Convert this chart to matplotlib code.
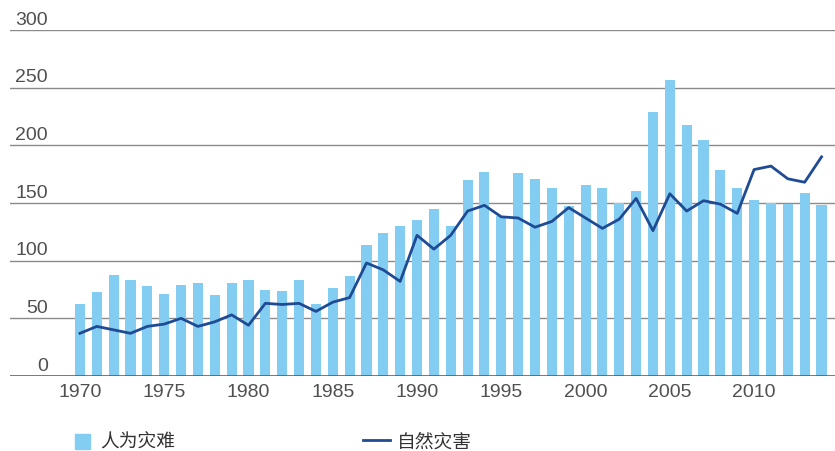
import matplotlib.pyplot as plt
from matplotlib.patches import Rectangle
from matplotlib.lines import Line2D
from matplotlib.transforms import blended_transform_factory

# Data: years, man-made disasters (bars), natural disasters (line)
years = list(range(1970, 2015))
man_made = [62, 73, 88, 83, 78, 71, 79, 81, 70, 81,
            83, 75, 74, 83, 62, 76, 87, 114, 124, 130,
            135, 145, 130, 170, 177, 139, 176, 171, 163, 147,
            166, 163, 150, 160, 229, 257, 218, 205, 179, 163,
            153, 150, 149, 159, 148]
natural = [37, 43, 40, 37, 43, 45, 50, 43, 47, 53,
           44, 63, 62, 63, 56, 64, 68, 98, 92, 82,
           122, 110, 122, 143, 148, 138, 137, 129, 134, 146,
           137, 128, 136, 154, 126, 158, 143, 152, 149, 141,
           179, 182, 171, 168, 190]
y_ticks = [0, 50, 100, 150, 200, 250, 300]
x_ticks = [1970, 1975, 1980, 1985, 1990, 1995, 2000, 2005, 2010]
bar_label = "人为灾难"
line_label = "自然灾害"

bar_color = "#82cdf1"
line_color = "#1f4b94"

W, H = 835, 452
fig = plt.figure(figsize=(W / 100, H / 100), dpi=100)
ax = fig.add_axes([10 / W, 75 / H, 825 / W, 346 / H])

ax.bar(years, man_made, width=0.6, color=bar_color, zorder=2)
ax.plot(years, natural, color=line_color, linewidth=2.0, zorder=3)

ax.set_xlim(1965.85, 2014.8)
ax.set_ylim(0, 300)

# gridlines
for v in y_ticks[1:]:
    ax.axhline(v, color="#8a8a8a", linewidth=1.0, zorder=1)
ax.axhline(0, color="#555555", linewidth=1.1, zorder=4)

for s in ax.spines.values():
    s.set_visible(False)

ax.set_yticks([])
ax.set_xticks(x_ticks)
ax.set_xticklabels([str(x) for x in x_ticks], fontsize=14,
                   family="Liberation Sans", color="#505050")
ax.tick_params(axis="x", length=0, pad=5)

# y labels sitting above the gridlines
trans = blended_transform_factory(ax.transAxes, ax.transData)
for v in y_ticks:
    ax.text(38 / 825, v + 2, str(v), transform=trans, ha="right", va="bottom",
            fontsize=14, family="Liberation Sans", color="#505050")

# legend
fig.patches.append(Rectangle((75 / W, (H - 450) / H), 15 / W, 15 / H,
                             transform=fig.transFigure, color=bar_color))
fig.text(100 / W, (H - 442) / H, bar_label, fontsize=13.5, va="center",
         family=["Noto Sans CJK SC", "DejaVu Sans"], color="#333333")
fig.lines.append(Line2D([363 / W, 390 / W], [(H - 441) / H, (H - 441) / H],
                        transform=fig.transFigure, color=line_color, linewidth=2.0))
fig.text(397 / W, (H - 442) / H, line_label, fontsize=13.5, va="center",
         family=["Noto Sans CJK SC", "DejaVu Sans"], color="#333333")

plt.savefig("out.png", dpi=100)
